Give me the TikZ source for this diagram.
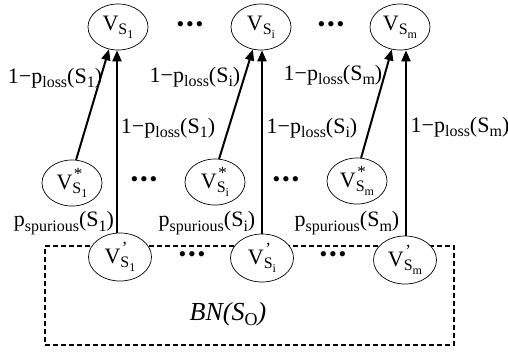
\documentclass[tikz,border=0pt]{standalone}
\usepackage{fontspec}
\setmainfont{Liberation Serif}
\usetikzlibrary{arrows.meta,shapes.geometric}

% subscript and second-level subscript in fixed sizes
\newcommand\sbone[1]{\raisebox{-4.5pt}{\fontsize{16}{16}\selectfont #1}}
\newcommand\sbtwo[1]{\raisebox{-3.5pt}{\fontsize{12}{12}\selectfont #1}}
% V with subscript S_x, optionally with a mark set above the subscript
\newcommand\vnode[2]{V\rlap{\raisebox{9.5pt}{\hspace{1.5pt}\fontsize{17}{17}\selectfont #2}}\sbone{S\sbtwo{#1}}}
\newcommand\lossl[1]{1−p\sbone{loss}(S\sbone{#1})}
\newcommand\spurl[1]{p\sbone{spurious}(S\sbone{#1})}
\newcommand\dotrow{•\hspace{1.8pt}•\hspace{1.8pt}•}

\begin{document}
\begin{tikzpicture}[x=1pt,y=-1pt,
  every node/.style={font=\fontsize{22}{26}\selectfont, inner sep=0pt},
  vbox/.style={ellipse, draw, line width=0.7pt, fill=white, minimum width=60pt, minimum height=46pt},
  vlow/.style={vbox, minimum width=63pt, minimum height=48pt},
  arr/.style={line width=2pt, -{Triangle[length=11pt,width=9pt]}},
  lbl/.style={anchor=center},
  dotsn/.style={font=\fontsize{22}{22}\selectfont}
]
\useasboundingbox (0,0) rectangle (508,354);

% dashed container of the observed network
\node[draw, line width=1.6pt, dash pattern=on 5pt off 3pt,
      minimum width=409pt, minimum height=99pt] (bn) at (249.5,295.5) {};
\node (bnlabel) at (228,314) {\fontsize{26}{28}\selectfont\itshape BN(S\raisebox{-5pt}{\fontsize{18}{18}\selectfont\upshape O})};

% top row
\node[vbox] (v1) at (118,27) {\vnode{1}{}};
\node[vbox] (vi) at (261,27) {\vnode{i}{}};
\node[vbox] (vm) at (400,27) {\vnode{m}{}};
\node[dotsn] (d1) at (190,27) {\dotrow};
\node[dotsn] (d2) at (331,27) {\dotrow};

% middle row
\node[vbox] (s1) at (72,183) {\vnode{1}{*}};
\node[vbox] (si) at (215,182) {\vnode{i}{*}};
\node[vbox] (sm) at (357,181) {\vnode{m}{*}};
\node[dotsn] (d3) at (144,182) {\dotrow};
\node[dotsn] (d4) at (286,182) {\dotrow};

% bottom row
\node[vlow] (p1) at (120,257) {\vnode{1}{’}};
\node[vlow] (pi) at (262,258) {\vnode{i}{’}};
\node[vlow] (pm) at (405,260) {\vnode{m}{’}};
\node[dotsn] (d5) at (192,257) {\dotrow};
\node[dotsn] (d6) at (333,257) {\dotrow};

% x positions of the vertical links
\coordinate (x1) at (117,0);
\coordinate (xi) at (262,0);
\coordinate (xm) at (406,0);

% links
\draw[arr] (s1.80) -- (v1.248);
\draw[arr] (si.80) -- (vi.250);
\draw[arr] (sm.80) -- (vm.250);
\draw[arr] (p1.north -| x1) -- (v1.south -| x1);
\draw[arr] (pi.north -| xi) -- (vi.south -| xi);
\draw[arr] (pm.north -| xm) -- (vm.south -| xm);

% link labels
\node[lbl] (l1) at (55,78) {\lossl{1}};
\node[lbl] (li) at (195,77) {\lossl{i}};
\node[lbl] (lm) at (333,75) {\lossl{m}};
\node[lbl] (k1) at (168,128) {\lossl{1}};
\node[lbl] (ki) at (312,128) {\lossl{i}};
\node[lbl] (km) at (460,127) {\lossl{m}};
\node[lbl] (q1) at (64,223) {\spurl{1}};
\node[lbl] (qi) at (207,223) {\spurl{i}};
\node[lbl] (qm) at (347,223) {\spurl{m}};
\end{tikzpicture}
\end{document}
